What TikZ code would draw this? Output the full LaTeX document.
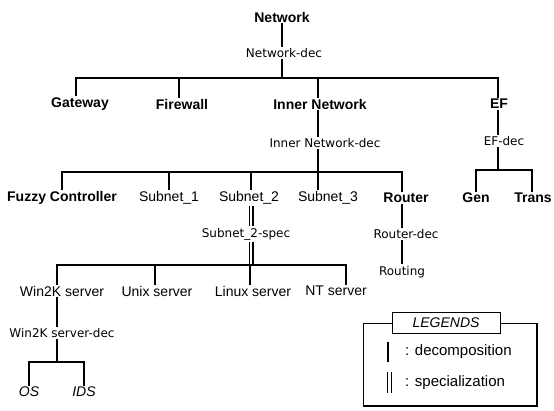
\documentclass[tikz,border=0pt]{standalone}
\usepackage{fontspec}
\setmainfont{Liberation Sans}
\newfontfamily\smallf{DejaVu Sans}
\begin{document}
\begin{tikzpicture}[x=1pt,y=-1pt,
  lab/.style={font=\fontsize{14}{16}\selectfont, inner sep=1pt},
  blab/.style={font=\fontsize{14}{16}\selectfont\bfseries, inner sep=1pt},
  ilab/.style={font=\fontsize{14}{16}\selectfont\itshape, inner sep=1pt},
  dec/.style={font=\smallf\fontsize{12}{14}\selectfont, inner sep=1.5pt},
  ln/.style={line width=1.7pt},
  dbl/.style={double, double distance=2.2pt, line width=1.4pt},
  legtxt/.style={font=\fontsize{15}{17}\selectfont, inner sep=1pt, anchor=west}]
\useasboundingbox (0,0) rectangle (554,410);

% nodes
\node[blab] (net) at (282,17) {Network};
\node[dec] (netd) at (284,53) {Network-dec};
\node[blab] (gw) at (80,104) {Gateway};
\node[blab] (fw) at (182,104) {Firewall};
\node[blab] (inn) at (320,104) {Inner Network};
\node[blab] (ef) at (499,104) {EF};
\node[dec] (innd) at (325,143) {Inner Network-dec};
\node[dec] (efd) at (504,141) {EF-dec};
\node[blab] (fc) at (62,198) {Fuzzy Controller};
\node[lab] (s1) at (169,198) {Subnet\_1};
\node[lab] (s2) at (249,198) {Subnet\_2};
\node[lab] (s3) at (328,198) {Subnet\_3};
\node[blab] (rt) at (406,198) {Router};
\node[blab] (gen) at (476,198) {Gen};
\node[blab] (tr) at (533,198) {Trans};
\node[dec] (s2s) at (246,234) {Subnet\_2-spec};
\node[dec] (rtd) at (406,234) {Router-dec};
\node[dec] (rtg) at (402,272) {Routing};
\node[lab] (w2k) at (62,291) {Win2K server};
\node[lab] (unx) at (157,291) {Unix server};
\node[lab] (lnx) at (253,291) {Linux server};
\node[lab] (nt) at (336,291) {NT server};
\node[dec] (w2kd) at (62,333) {Win2K server-dec};
\node[ilab] (os) at (29,392) {OS};
\node[ilab] (ids) at (84,392) {IDS};

% bar / line coordinates
\coordinate (b1) at (282,78);
\coordinate (b2) at (318,172);
\coordinate (b3) at (498,170);
\coordinate (b4) at (251,265);
\coordinate (xr) at (402,0);
\coordinate (b6) at (57,362);

% Network
\draw[ln] (net.south -| b1) -- (netd.north -| b1);
\draw[ln] (netd.south -| b1) -- (b1);
\draw[ln] ([xshift=-4pt]gw.north) |- (b1);
\draw[ln] ([xshift=-3pt]fw.north) |- (b1);
\draw[ln] ([xshift=-2pt]inn.north) |- (b1);
\draw[ln] ([xshift=-1pt]ef.north) |- (b1);

% Inner Network
\draw[ln] (inn.south -| b2) -- (innd.north -| b2);
\draw[ln] (innd.south -| b2) -- (b2);
\draw[ln] (fc.north) |- (b2);
\draw[ln] (s1.north) |- (b2);
\draw[ln] (s2.north -| b4) |- (b2);
\draw[ln] (s3.north -| b2) -- (b2);
\draw[ln] ([xshift=-4pt]rt.north) |- (b2);

% EF
\draw[ln] (ef.south -| b3) -- (efd.north -| b3);
\draw[ln] (efd.south -| b3) -- (b3);
\draw[ln] (gen.north) |- (b3);
\draw[ln] ([xshift=-1pt]tr.north) |- (b3);

% Subnet_2 (specialization)
\draw[dbl] (s2.south -| b4) -- (s2s.north -| b4);
\draw[dbl] (s2s.south -| b4) -- (b4);
\draw[ln] ([xshift=-5pt]w2k.north) |- (b4);
\draw[ln] ([xshift=-2pt]unx.north) |- (b4);
\draw[ln] ([xshift=-3pt]lnx.north) |- (b4);
\draw[ln] ([xshift=10pt]nt.north) |- (b4);

% Router
\draw[ln] (rt.south -| xr) -- (rtd.north -| xr);
\draw[ln] (rtd.south -| xr) -- (rtg.north -| xr);

% Win2K server
\draw[ln] (w2k.south -| b6) -- (w2kd.north -| b6);
\draw[ln] (w2kd.south -| b6) -- (b6);
\draw[ln] (os.north) |- (b6);
\draw[ln] (ids.north) |- (b6);

% Legend
\coordinate (lgA) at (363,323);
\coordinate (lgB) at (537,406);
\draw[line width=1pt] (lgA) rectangle (lgB);
\draw[line width=2pt] (lgA -| lgB) -- (lgB) -- (lgB -| lgA);
\node[draw, fill=white, line width=1pt, minimum width=108pt, minimum height=21pt,
      inner sep=1pt, font=\fontsize{14}{16}\selectfont\itshape] (leg) at (446,322.5) {LEGENDS};
\node[legtxt] (ldec) at (404,352) {: decomposition};
\node[legtxt] (lspe) at (404,383) {: specialization};
\coordinate (ld1) at (388,342);
\coordinate (ld2) at (388,362);
\coordinate (ls1) at (389.5,372);
\coordinate (ls2) at (389.5,393);
\draw[ln] (ld1) -- (ld2);
\draw[dbl] (ls1) -- (ls2);
\end{tikzpicture}
\end{document}
